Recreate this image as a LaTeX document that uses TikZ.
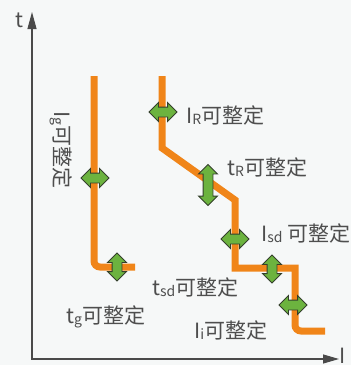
\documentclass[tikz,border=0pt]{standalone}
\usepackage{fontspec}
\setmainfont{Noto Sans CJK SC}
\usepackage{tikz}
\usetikzlibrary{arrows.meta,positioning,shapes.arrows}
\definecolor{curveor}{HTML}{F08519}
\definecolor{knobgr}{HTML}{6CB33F}
\definecolor{knobrim}{HTML}{34402C}
\definecolor{axisgr}{HTML}{4A4A4A}
\definecolor{textgr}{HTML}{4E4E4E}
\definecolor{paperbg}{HTML}{F6F8F8}
\newcommand{\lowsub}[1]{\raisebox{-1pt}{\fontsize{14pt}{14pt}\selectfont #1}}

\begin{document}
\begin{tikzpicture}[x=1pt,y=-1pt,
    curve/.style={draw=curveor,line width=7pt,line join=miter},
    knob/.style={shape=double arrow,fill=knobgr,draw=knobrim,line width=0.9pt,
                 inner xsep=0pt,inner ysep=4.5pt,minimum height=28pt,
                 minimum width=18pt,double arrow head extend=4.5pt},
    axisline/.style={draw=axisgr,line width=1.1pt},
    lbl/.style={text=textgr,font=\fontsize{21pt}{21pt}\selectfont,inner sep=0pt}]
  % background and size
  \fill[paperbg] (0,0) rectangle (351,365);
  \useasboundingbox (0,0) rectangle (351,365);
  % axes
  \coordinate (ttop) at (32,12);
  \coordinate (origin) at (32,359);
  \coordinate (iend) at (339,359);
  \draw[axisline,{Triangle[length=17pt,width=9pt]}-{Triangle[length=16pt,width=9pt]}]
    (ttop) -- (origin) -- (iend);
  \node[lbl] (tlab) at (19,20) {t};
  \node[lbl] (ilab) at (343,356) {I};
  % ground fault curve
  \draw[curve,rounded corners=6pt] (94,76) -- (94,267) -- (135,267);
  % long time, short time and instantaneous curve
  \draw[curve] (162,76) -- (162,148) -- (235,200) -- (235,268) -- (295,268)
    [rounded corners=6pt] -- (295,331) -- (325,331);
  % adjusting arrows
  \node[knob] (aIg) at (95,178) {};
  \node[knob,rotate=90] (atg) at (117,267) {};
  \node[knob] (aIR) at (163,112) {};
  \node[knob,rotate=90,minimum height=41pt] (atR) at (208,185) {};
  \node[knob] (aIsd) at (235,239) {};
  \node[knob,rotate=90] (atsd) at (272,269) {};
  \node[knob] (aIi) at (293,305) {};
  % labels
  \node[lbl,rotate=-90] (lIg) at (61,150) {I\lowsub{g}可整定};
  \node[lbl,anchor=west] (ltg) at (66,317) {t\lowsub{g}可整定};
  \node[lbl,anchor=west] (lIR) at (186,115) {I\lowsub{R}可整定};
  \node[lbl,anchor=west] (ltR) at (227,167) {t\lowsub{R}可整定};
  \node[lbl,anchor=west] (lIsd) at (261,233) {I\lowsub{sd} 可整定};
  \node[lbl,anchor=west] (ltsd) at (152,287) {t\lowsub{sd}可整定};
  \node[lbl,anchor=west] (lIi) at (194,330) {I\lowsub{i}可整定};
\end{tikzpicture}
\end{document}
